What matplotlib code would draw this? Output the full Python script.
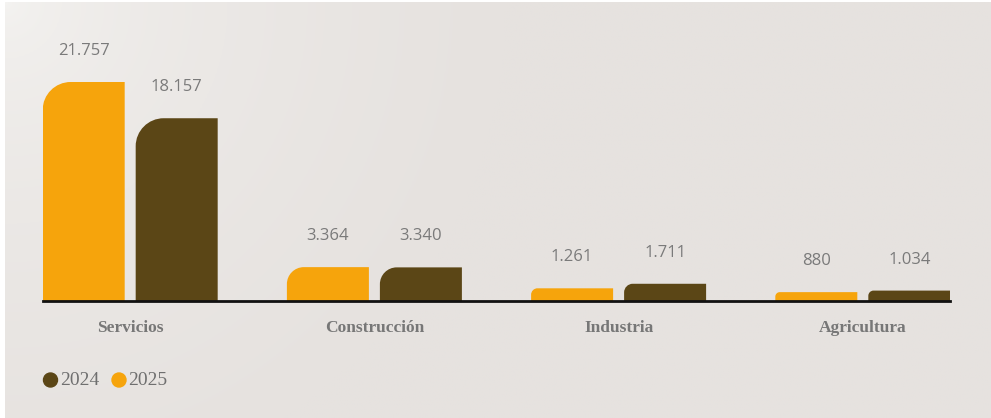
import numpy as np
import matplotlib
matplotlib.use("Agg")
import matplotlib.pyplot as plt
from matplotlib.path import Path
from matplotlib.patches import PathPatch, Circle

categories = ["Servicios", "Construcción", "Industria", "Agricultura"]
values_2025 = [21757, 3364, 1261, 880]
values_2024 = [18157, 3340, 1711, 1034]
labels_2025 = ["21.757", "3.364", "1.261", "880"]
labels_2024 = ["18.157", "3.340", "1.711", "1.034"]
legend_labels = ["2024", "2025"]

C25 = "#F6A40C"
C24 = "#5B4616"
GRAY = "#7a7a7a"

W, H = 991, 418
fig = plt.figure(figsize=(W / 100, H / 100), dpi=100)
fig.patch.set_facecolor("white")

# background gradient
bg = fig.add_axes([5 / W, 0, 1 - 5 / W, 1 - 2 / H])
bg.set_axis_off()
yy, xx = np.mgrid[0:1:200j, 0:1:400j]
t = np.clip(np.sqrt((xx * 2.37) ** 2 + yy ** 2) / 1.2, 0, 1) ** 0.5
c0 = np.array([0xF5, 0xF4, 0xF2]) / 255
c1 = np.array([0xE6, 0xE2, 0xDF]) / 255
img = c0[None, None, :] * (1 - t[..., None]) + c1[None, None, :] * t[..., None]
bg.imshow(img, aspect="auto", extent=[0, 1, 1, 0])
bg.set_xlim(0, 1)
bg.set_ylim(1, 0)

# main axes
ax_left, ax_right = 43, 950
base_y, top_y = 301, 30
ax = fig.add_axes([ax_left / W, (H - base_y) / H, (ax_right - ax_left) / W, (base_y - top_y) / H])
ax.set_facecolor("none")
xmin, xmax = -0.357, 3.357
px_per_val = 219 / 21757
ymax = (base_y - top_y) / px_per_val
ax.set_xlim(xmin, xmax)
ax.set_ylim(0, ymax)
for s in ["top", "right", "left"]:
    ax.spines[s].set_visible(False)
ax.spines["bottom"].set_linewidth(2.0)
ax.spines["bottom"].set_color("#111111")
ax.set_yticks([])
x = np.arange(len(categories))
ax.set_xticks(x)
ax.set_xticklabels(categories, fontfamily="Liberation Serif", fontweight="bold",
                   fontsize=12.5, color="#777777")
ax.tick_params(axis="x", length=0, pad=14)

xu_per_px = (xmax - xmin) / (ax_right - ax_left)
yu_per_px = ymax / (base_y - top_y)
bw = 82 * xu_per_px
off = 46.5 * xu_per_px
K = 0.5523


def rounded_bar(xc, h, color):
    hpx = h / yu_per_px
    r = min(28, hpx * 0.5)
    rx, ry = r * xu_per_px, r * yu_per_px
    x0, x1 = xc - bw / 2, xc + bw / 2
    verts = [(x0, 0), (x0, h - ry),
             (x0, h - ry + K * ry), (x0 + rx - K * rx, h), (x0 + rx, h),
             (x1, h), (x1, 0), (x0, 0)]
    codes = [Path.MOVETO, Path.LINETO, Path.CURVE4, Path.CURVE4, Path.CURVE4,
             Path.LINETO, Path.LINETO, Path.CLOSEPOLY]
    ax.add_patch(PathPatch(Path(verts, codes), facecolor=color, edgecolor="none", zorder=2))


for i in range(len(categories)):
    rounded_bar(x[i] - off, values_2025[i], C25)
    rounded_bar(x[i] + off, values_2024[i], C24)
    ax.text(x[i] - off, values_2025[i] + 31 * yu_per_px, labels_2025[i], ha="center", va="center",
            fontfamily="Open Sans", fontsize=12, color=GRAY)
    ax.text(x[i] + off, values_2024[i] + 31 * yu_per_px, labels_2024[i], ha="center", va="center",
            fontfamily="Open Sans", fontsize=12, color=GRAY)

# legend
leg = fig.add_axes([0, 0, 1, 1])
leg.set_axis_off()
leg.set_xlim(0, W)
leg.set_ylim(H, 0)
leg.add_patch(Circle((50.5, 380), 7, color=C24))
leg.text(60, 380.5, legend_labels[0], ha="left", va="center", fontfamily="Liberation Serif",
         fontsize=14, color="#6f6f6f")
leg.add_patch(Circle((119, 380), 7, color=C25))
leg.text(128.5, 380.5, legend_labels[1], ha="left", va="center", fontfamily="Liberation Serif",
         fontsize=14, color="#6f6f6f")

fig.savefig("out.png", dpi=100, facecolor=fig.get_facecolor())
